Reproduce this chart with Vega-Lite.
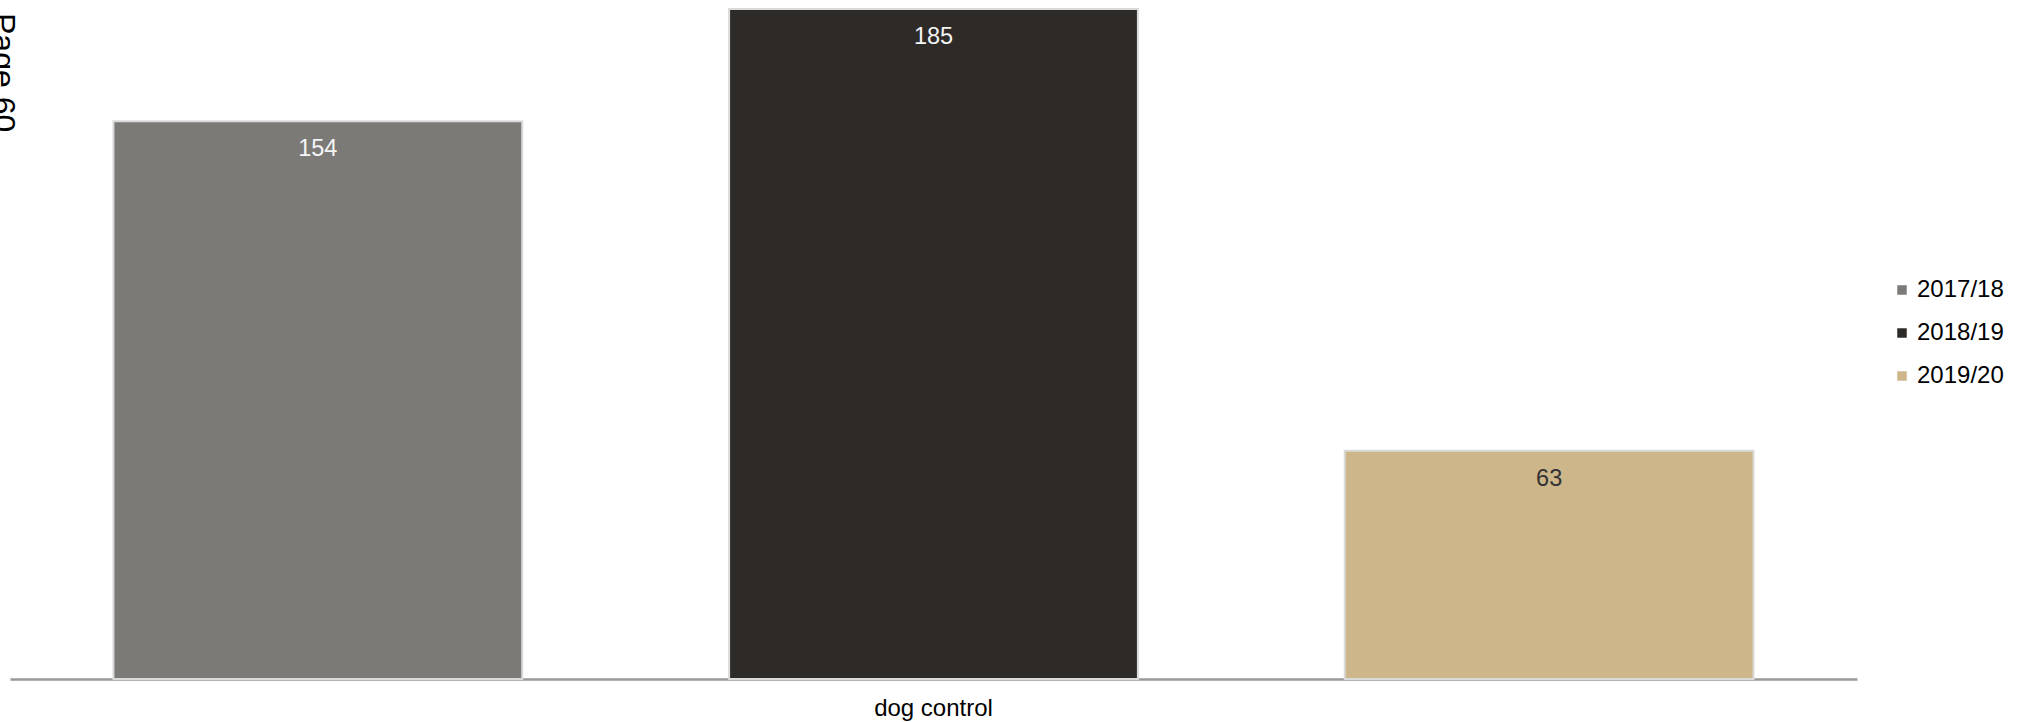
{
  "$schema": "https://vega.github.io/schema/vega-lite/v6.json",
  "autosize": {"type": "none"},
  "padding": {"left": 10, "top": 0, "right": 168, "bottom": 43},
  "width": 1847,
  "height": 679,
  "background": "white",
  "title": {
    "text": "Page 60",
    "orient": "left",
    "anchor": "end",
    "angle": 90,
    "align": "left",
    "baseline": "alphabetic",
    "font": "Liberation Sans",
    "fontSize": 32,
    "fontWeight": "normal",
    "color": "#000000",
    "offset": -15,
    "dx": 13
  },
  "data": {
    "values": [
      {"category": "dog control", "year": "2017/18", "count": 154},
      {"category": "dog control", "year": "2018/19", "count": 185},
      {"category": "dog control", "year": "2019/20", "count": 63}
    ]
  },
  "encoding": {
    "x": {
      "field": "category",
      "type": "nominal",
      "scale": {"paddingInner": 0, "paddingOuter": 0},
      "axis": {
        "title": null,
        "ticks": false,
        "domainColor": "#999999",
        "domainWidth": 2.5,
        "labelFont": "Liberation Sans",
        "labelFontSize": 24,
        "labelColor": "#000000",
        "labelPadding": 17,
        "labelAngle": 0
      }
    },
    "xOffset": {
      "field": "year",
      "type": "nominal",
      "scale": {"paddingInner": 0.336, "paddingOuter": 0.168}
    },
    "y": {
      "field": "count",
      "type": "quantitative",
      "scale": {"domain": [0, 187.5], "nice": false},
      "axis": null
    }
  },
  "layer": [
    {
      "mark": {"type": "bar", "stroke": "#dadada", "strokeWidth": 2},
      "encoding": {
        "color": {
          "field": "year",
          "type": "nominal",
          "scale": {
            "domain": ["2017/18", "2018/19", "2019/20"],
            "range": ["#7c7a77", "#2e2a27", "#cdb68a"]
          },
          "legend": {
            "orient": "none",
            "legendX": 1880,
            "legendY": 278,
            "title": null,
            "symbolType": "square",
            "symbolSize": 90,
            "symbolStrokeWidth": 0,
            "symbolOpacity": 1,
            "labelFont": "Liberation Sans",
            "labelFontSize": 24,
            "labelColor": "#000000",
            "rowPadding": 19,
            "labelOffset": 3
          }
        }
      }
    },
    {
      "mark": {
        "type": "text",
        "baseline": "alphabetic",
        "dy": 35,
        "font": "Liberation Sans",
        "fontSize": 23.5
      },
      "encoding": {
        "text": {"field": "count", "type": "quantitative"},
        "color": {
          "condition": {"test": "datum.year === '2019/20'", "value": "#333333"},
          "value": "#f5f5f5"
        }
      }
    }
  ],
  "config": {
    "view": {"stroke": null},
    "axis": {"grid": false}
  }
}
